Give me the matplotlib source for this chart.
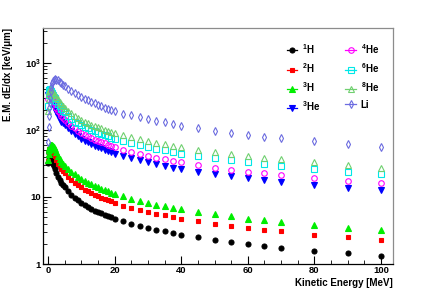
import matplotlib
matplotlib.use('Agg')
import matplotlib.pyplot as plt
from matplotlib.lines import Line2D
from matplotlib.ticker import FixedLocator, FixedFormatter, MultipleLocator, LogLocator, NullFormatter

plt.rcParams['font.family'] = ['Liberation Sans', 'DejaVu Sans']
plt.rcParams['font.weight'] = 'bold'
plt.rcParams['mathtext.fontset'] = 'custom'
plt.rcParams['mathtext.rm'] = 'Liberation Sans:bold'
plt.rcParams['mathtext.bf'] = 'Liberation Sans:bold'
plt.rcParams['mathtext.it'] = 'Liberation Sans:bold:italic'
plt.rcParams['mathtext.default'] = 'rm'

# ---------------- data ----------------
energy = [0.1, 0.2, 0.3, 0.4, 0.5, 0.6, 0.8, 1.0, 1.25, 1.5, 1.75, 2.0, 2.5, 3.0, 3.5, 4.0, 4.5, 5.0,
          6, 7, 8, 9, 10, 11, 12, 13, 14, 15, 16, 17, 18, 19, 20,
          22.5, 25, 27.5, 30, 32.5, 35, 37.5, 40, 45, 50, 55, 60, 65, 70, 80, 90, 100]

h1 = [32, 40, 45, 47, 47, 46, 44, 41, 35, 31.5, 28.5, 26.3, 22.6, 19.9, 17.9, 16.3, 15.0, 13.9,
      12.1, 10.75, 9.7, 8.9, 8.2, 7.6, 7.1, 6.65, 6.25, 5.95, 5.67, 5.42, 5.2, 4.97, 4.74,
      4.33, 3.97, 3.69, 3.44, 3.24, 3.06, 2.89, 2.74, 2.50, 2.29, 2.14, 2.00, 1.88, 1.75, 1.57, 1.44, 1.33]

h2 = [34, 42, 47, 51, 53, 54, 55, 55, 53, 49.5, 44.8, 41, 35, 31.5, 28.5, 26.3, 24.4, 22.6,
      19.9, 17.9, 16.3, 15.0, 13.9, 12.9, 12.1, 11.35, 10.75, 10.2, 9.7, 9.3, 8.9, 8.55, 8.2,
      7.45, 6.85, 6.35, 5.95, 5.6, 5.3, 5.03, 4.74, 4.33, 3.97, 3.69, 3.44, 3.24, 3.06, 2.74, 2.50, 2.29]

h3 = [36, 44, 50, 54, 57, 59, 60, 60, 59, 57, 55, 52.5, 46.3, 41, 37, 33.5, 31.5, 29.4,
      26.3, 23.9, 21.6, 19.9, 18.5, 17.3, 16.3, 15.5, 14.6, 13.9, 13.35, 12.6, 12.1, 11.6, 11.1,
      10.2, 9.4, 8.75, 8.2, 7.7, 7.25, 6.85, 6.5, 5.95, 5.5, 5.12, 4.74, 4.46, 4.21, 3.78, 3.44, 3.18]

he3 = [326, 395, 392, 378, 366, 357, 327, 296, 270, 244, 223, 205, 182, 161.5, 146, 132.7, 124.7, 116.4,
       105.2, 95.6, 86.4, 79.6, 74.0, 69.2, 65.2, 62.0, 58.4, 55.6, 53.4, 50.4, 48.4, 46.4, 44.4,
       40.8, 37.6, 35.0, 32.8, 30.8, 29.0, 27.4, 26.0, 23.8, 22.0, 20.5, 19.0, 17.8, 16.8, 15.1, 13.8, 12.7]

he4 = [288, 376, 400, 392, 381, 372, 357, 333, 304, 284, 261, 244, 212.5, 194, 176, 161.5, 150, 138,
       124.7, 112.9, 105.2, 97.6, 90.4, 84.4, 79.6, 75.6, 71.6, 68.4, 65.2, 62.8, 60.0, 57.8, 55.6,
       50.8, 46.8, 43.4, 40.8, 38.4, 36.2, 34.4, 32.8, 29.8, 27.4, 25.4, 23.8, 22.4, 21.2, 19.0, 17.3, 15.9]

he6 = [224, 326, 376, 395, 402, 392, 378, 366, 355, 333, 314, 296, 270, 244, 223.5, 205, 194, 182,
       161.5, 146, 132.7, 124.7, 116.4, 109.3, 105.2, 100.0, 95.6, 90.4, 86.4, 82.8, 79.6, 76.8, 74.0,
       68.4, 63.6, 59.2, 55.6, 52.4, 49.4, 46.8, 44.4, 40.8, 37.6, 35.0, 32.8, 30.8, 29.0, 26.0, 23.8, 22.0]

he8 = [193, 288, 342, 376, 392, 400, 392, 381, 373, 362, 348, 333, 304, 284, 261, 244, 228.5, 212.5,
       194, 176, 161.5, 150, 138, 130.7, 124.7, 118.4, 112.9, 108.5, 105.2, 101.2, 97.6, 94.0, 90.4,
       83.2, 77.6, 72.4, 68.4, 64.6, 61.6, 58.2, 55.6, 50.8, 46.8, 43.4, 40.8, 38.4, 36.2, 32.8, 29.8, 27.4]

li = [65, 110, 160, 210, 255, 300, 375, 440, 500, 540, 560, 565, 560, 545, 525, 500, 470, 445,
      410, 380, 353, 330, 310, 292, 276, 261, 248, 236, 225, 215, 205, 197, 189,
      175, 164, 154, 145, 136, 129, 122, 116, 106, 97.5, 90, 85, 79.5, 75, 67.5, 61, 56]

labels = [r'$^{1}$H', r'$^{2}$H', r'$^{3}$H', r'$^{3}$He',
          r'$^{4}$He', r'$^{6}$He', r'$^{8}$He', 'Li']
x_ticks = [0, 20, 40, 60, 80, 100]
y_ticks = [1, 10, 100, 1000]
y_tick_labels = ['1', '10', r'10$^{2}$', r'10$^{3}$']

# ---------------- styles ----------------
styles = [
    dict(color='black', marker='o', ms=3.6, filled=True),
    dict(color='#ff0000', marker='s', ms=3.2, filled=True),
    dict(color='#00ee00', marker='^', ms=4.0, filled=True),
    dict(color='#0000ff', marker='v', ms=4.0, filled=True),
    dict(color='#ff00ff', marker='o', ms=4.0, filled=False),
    dict(color='#00e8e8', marker='s', ms=3.8, filled=False),
    dict(color='#70d070', marker='^', ms=4.4, filled=False),
    dict(color='#6c6ce0', marker='d', ms=4.2, filled=False),
]
series = [h1, h2, h3, he3, he4, he6, he8, li]

fig = plt.figure(figsize=(4.36, 2.95), dpi=100)
ax = fig.add_axes([43/436, 1-264/295, (393-43)/436, (264-28)/295])

handles = []
for vals, st, lab in zip(series, styles, labels):
    fc = st['color'] if st['filled'] else 'none'
    ax.plot(energy, vals, linestyle='none', marker=st['marker'], ms=st['ms'],
            markerfacecolor=fc, markeredgecolor=st['color'], markeredgewidth=0.8)
    handles.append(Line2D([], [], color=st['color'], lw=0.9, marker=st['marker'], ms=st['ms'],
                          markerfacecolor=fc, markeredgecolor=st['color'], markeredgewidth=0.8,
                          label=lab))

ax.set_yscale('log')
ax.set_xlim(-1.5, 103.6)
ax.set_ylim(1, 3300)

ax.xaxis.set_major_locator(FixedLocator(x_ticks))
ax.xaxis.set_minor_locator(MultipleLocator(5))
ax.yaxis.set_major_locator(FixedLocator(y_ticks))
ax.yaxis.set_major_formatter(FixedFormatter(y_tick_labels))
ax.yaxis.set_minor_locator(LogLocator(base=10, subs=[2, 3, 4, 5, 6, 7, 8, 9]))
ax.yaxis.set_minor_formatter(NullFormatter())

ax.tick_params(axis='both', which='major', direction='in', length=6, width=0.8,
               labelsize=6.8, top=False, right=False)
ax.tick_params(axis='both', which='minor', direction='in', length=3, width=0.6,
               top=False, right=False)
ax.tick_params(axis='x', which='major', pad=1.5)
ax.tick_params(axis='y', which='major', pad=1.5)
for lab in ax.get_xticklabels() + ax.get_yticklabels():
    lab.set_fontweight('bold')

for side in ['top', 'right']:
    ax.spines[side].set_color('#8c8c8c')
for side in ['left', 'bottom']:
    ax.spines[side].set_color('black')
for sp in ax.spines.values():
    sp.set_linewidth(0.9)

ax.set_xlabel('Kinetic Energy [MeV]', fontsize=7, fontweight='bold', loc='right')
ax.xaxis.set_label_coords(1.0, -0.058)
ax.set_ylabel('E.M. dE/dx [keV/μm]', fontsize=7, fontweight='bold', loc='top')
ax.yaxis.set_label_coords(-0.086, 1.0)

leg = ax.legend(handles=handles, ncol=2, loc='upper right', bbox_to_anchor=(1.0, 1.0),
                fontsize=7, frameon=False, borderpad=1.45,
                labelspacing=0.55, handlelength=1.1, handletextpad=0.45,
                columnspacing=2.6, borderaxespad=0.0)
for t in leg.get_texts():
    t.set_fontweight('bold')

fig.savefig('out.png', dpi=100)
